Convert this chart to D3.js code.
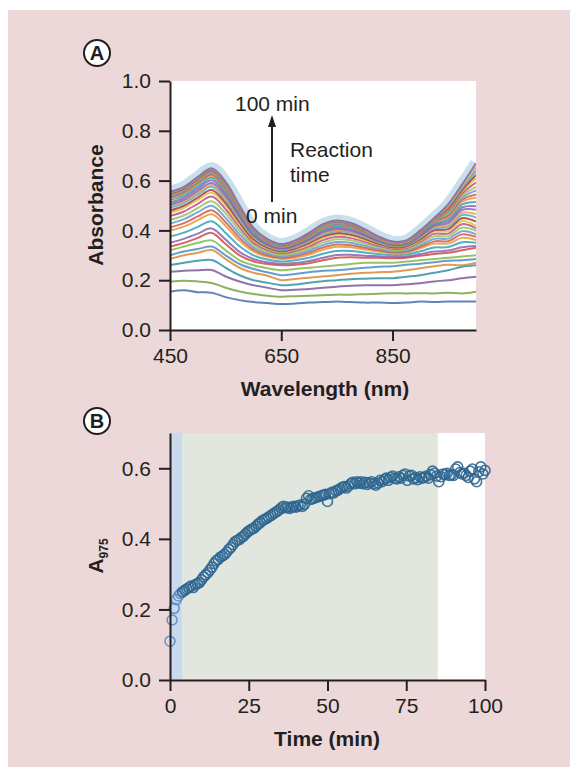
<!DOCTYPE html>
<html>
<head>
<meta charset="utf-8">
<script src="https://cdn.jsdelivr.net/npm/d3@7"></script>
<style>
  body { margin: 0; background: #fff; }
  text { font-family: "Liberation Sans", Arial, Helvetica, sans-serif; fill: #231f20; }
</style>
</head>
<body>
<script>
// ---- panel A: spectra, bottom (0 min) to top (100 min)
const wavelengths = [450,475,500,525,550,575,600,625,650,675,700,725,750,775,800,825,850,875,900,925,950,975,1000];

const spectra = [
  [.154,.160,.152,.150,.132,.120,.112,.108,.104,.106,.110,.112,.114,.112,.110,.110,.108,.110,.114,.112,.114,.114,.114],
  [.194,.198,.195,.189,.170,.155,.145,.138,.134,.136,.138,.140,.142,.142,.144,.146,.148,.147,.148,.147,.150,.147,.154],
  [.234,.238,.240,.241,.215,.195,.180,.170,.160,.162,.165,.170,.174,.178,.180,.180,.180,.184,.188,.195,.200,.208,.214],
  [.261,.270,.278,.281,.250,.220,.200,.190,.180,.183,.190,.196,.200,.204,.206,.208,.208,.214,.220,.230,.240,.254,.260],
  [.285,.300,.310,.321,.285,.250,.230,.218,.200,.205,.210,.215,.220,.226,.230,.232,.234,.240,.248,.256,.262,.260,.270],
  [.300,.315,.325,.335,.300,.265,.245,.232,.220,.225,.232,.238,.240,.245,.250,.254,.256,.262,.266,.272,.278,.280,.285],
  [.320,.335,.350,.360,.320,.280,.260,.248,.240,.245,.250,.255,.260,.265,.270,.270,.270,.275,.280,.285,.290,.295,.300],
  [.335,.350,.370,.390,.345,.300,.276,.265,.260,.262,.268,.280,.290,.292,.290,.290,.288,.290,.298,.305,.310,.320,.330],
  [.350,.366,.387,.408,.363,.314,.285,.272,.266,.269,.277,.290,.301,.302,.298,.296,.293,.295,.305,.315,.319,.332,.337],
  [.375,.391,.414,.437,.390,.336,.300,.283,.275,.280,.290,.306,.317,.317,.311,.305,.300,.303,.316,.331,.333,.352,.350],
  [.399,.415,.441,.465,.418,.358,.315,.294,.285,.290,.303,.322,.334,.332,.323,.315,.307,.310,.328,.347,.347,.370,.361],
  [.412,.429,.456,.481,.433,.370,.323,.300,.290,.296,.311,.331,.343,.340,.330,.320,.312,.315,.334,.356,.357,.384,.374],
  [.427,.445,.473,.499,.450,.384,.332,.307,.296,.303,.319,.341,.353,.350,.338,.326,.316,.319,.341,.366,.367,.397,.384],
  [.443,.460,.490,.517,.468,.398,.342,.314,.302,.310,.328,.351,.364,.360,.346,.332,.321,.324,.348,.376,.377,.411,.398],
  [.458,.476,.507,.536,.485,.412,.351,.321,.308,.317,.336,.361,.374,.369,.354,.338,.326,.329,.355,.386,.387,.425,.408],
  [.471,.490,.522,.551,.500,.424,.359,.327,.313,.323,.344,.370,.383,.378,.361,.343,.330,.333,.361,.395,.396,.437,.418],
  [.480,.499,.532,.562,.510,.432,.364,.331,.316,.327,.349,.376,.389,.383,.366,.346,.332,.336,.365,.401,.405,.449,.435],
  [.491,.510,.544,.575,.523,.442,.371,.336,.320,.332,.355,.383,.397,.390,.372,.350,.336,.340,.370,.408,.414,.462,.452],
  [.498,.517,.551,.582,.530,.448,.375,.339,.323,.335,.358,.387,.401,.394,.375,.353,.338,.342,.374,.412,.421,.471,.466],
  [.504,.523,.559,.590,.538,.454,.379,.342,.326,.338,.362,.392,.406,.398,.379,.356,.340,.344,.377,.417,.429,.482,.483],
  [.513,.532,.569,.601,.548,.462,.385,.346,.329,.341,.367,.398,.412,.404,.383,.359,.342,.347,.381,.423,.437,.492,.497],
  [.522,.541,.578,.611,.558,.470,.390,.350,.332,.345,.372,.403,.418,.409,.388,.362,.345,.350,.385,.428,.446,.504,.514],
  [.529,.548,.586,.619,.565,.476,.394,.353,.335,.348,.375,.408,.422,.413,.391,.365,.347,.352,.388,.433,.453,.515,.531],
  [.533,.553,.591,.624,.570,.480,.397,.355,.337,.350,.378,.411,.425,.416,.394,.367,.348,.353,.390,.436,.459,.523,.544],
  [.537,.557,.595,.629,.575,.484,.399,.357,.338,.352,.380,.413,.428,.419,.396,.368,.350,.354,.392,.438,.466,.532,.561],
  [.542,.562,.600,.634,.580,.488,.402,.359,.340,.354,.383,.416,.431,.422,.398,.370,.351,.356,.394,.441,.472,.540,.575],
  [.544,.564,.603,.637,.583,.490,.403,.360,.341,.355,.384,.418,.433,.423,.399,.371,.352,.357,.395,.443,.478,.548,.592],
  [.546,.566,.605,.640,.585,.492,.405,.361,.342,.356,.385,.419,.434,.425,.400,.372,.352,.357,.396,.444,.484,.556,.609],
  [.548,.568,.608,.642,.588,.494,.406,.362,.342,.357,.386,.421,.436,.426,.402,.373,.353,.358,.397,.446,.488,.562,.622],
  [.551,.571,.610,.645,.590,.496,.407,.363,.343,.358,.388,.422,.437,.427,.403,.373,.354,.359,.398,.447,.494,.570,.639],
  [.553,.573,.613,.647,.593,.498,.409,.364,.344,.359,.389,.424,.439,.429,.404,.374,.354,.359,.399,.449,.499,.577,.653],
  [.555,.575,.615,.650,.595,.500,.410,.365,.345,.360,.390,.425,.440,.430,.405,.375,.355,.360,.400,.450,.505,.585,.670]
];

// ---- panel B: A975 per scan (one scan every 40 s)
const scanStepMin = 2 / 3;
const a975 = [
  0.110,0.170,0.203,0.228,0.238,0.245,0.250,0.254,0.258,0.262,
  0.266,0.262,0.270,0.273,0.276,0.284,0.292,0.298,0.304,0.312,
  0.320,0.330,0.338,0.342,0.348,0.352,0.356,0.362,0.370,0.376,
  0.384,0.392,0.396,0.398,0.404,0.408,0.414,0.420,0.424,0.428,
  0.430,0.436,0.442,0.446,0.452,0.455,0.458,0.462,0.466,0.470,
  0.474,0.478,0.482,0.488,0.492,0.488,0.490,0.486,0.490,0.492,
  0.490,0.494,0.496,0.492,0.498,0.515,0.522,0.512,0.514,0.516,
  0.518,0.520,0.522,0.524,0.526,0.506,0.528,0.532,0.530,0.536,
  0.538,0.542,0.546,0.548,0.544,0.550,0.556,0.560,0.556,0.562,
  0.558,0.562,0.556,0.560,0.554,0.558,0.562,0.556,0.552,0.558,
  0.566,0.562,0.568,0.572,0.566,0.574,0.578,0.572,0.570,0.576,
  0.572,0.580,0.584,0.566,0.578,0.580,0.570,0.574,0.568,0.576,
  0.572,0.574,0.578,0.572,0.582,0.592,0.586,0.578,0.562,0.576,
  0.584,0.582,0.586,0.580,0.582,0.580,0.598,0.604,0.588,0.584,
  0.586,0.580,0.574,0.592,0.598,0.570,0.562,0.590,0.604,0.584,
  0.594
];

const phases = [
  {from: 0, to: 3.8, color: '#c9daee'},
  {from: 3.8, to: 85, color: '#e1e7df'}
];

const absTicks = [0, 0.2, 0.4, 0.6, 0.8, 1.0];
const wlTicks = [450, 650, 850];
const a975Ticks = [0, 0.2, 0.4, 0.6];
const timeTicks = [0, 25, 50, 75, 100];

const bottomColors = ['#4470a8','#78a444','#7b5a9e','#2f93a6','#dc8a35','#4a8ccb','#86b84a','#cc4a44'];
const denseColors = ['#8a63b0','#33a3b5','#e59a3a','#d2584a','#5a9bd5','#9cc255','#b5508f','#e0c040','#a33a3a','#46b0c8','#f0a050','#7d6bb8'];

const ink = '#231f20';

const svg = d3.select('body').append('svg')
  .attr('width', 570)
  .attr('height', 767);

svg.append('rect')
  .attr('x', 8).attr('y', 10)
  .attr('width', 562).attr('height', 757)
  .attr('fill', '#ecd8d8');

function styleAxis(g) {
  g.selectAll('.domain').attr('stroke', ink).attr('stroke-width', 2);
  g.selectAll('.tick line').attr('stroke', ink).attr('stroke-width', 2);
  g.selectAll('.tick text').attr('fill', ink)
    .style('font-size', '21px')
    .style('font-family', '"Liberation Sans", Arial, sans-serif');
}

function panelLabel(x, y, s) {
  svg.append('circle').attr('cx', x).attr('cy', y).attr('r', 13)
    .attr('fill', '#fff').attr('stroke', ink).attr('stroke-width', 2);
  svg.append('text').attr('x', x).attr('y', y + 7)
    .attr('text-anchor', 'middle')
    .style('font-size', '20px').style('font-weight', 'bold')
    .text(s);
}

// ================= panel A =================
const xA = d3.scaleLinear().domain([450, 1000]).range([170, 476]);
const yA = d3.scaleLinear().domain([0, 1]).range([330, 81]);

svg.append('rect')
  .attr('x', xA(450)).attr('y', yA(1))
  .attr('width', xA(1000) - xA(450)).attr('height', yA(0) - yA(1))
  .attr('fill', '#fff');

svg.append('clipPath').attr('id', 'clipA')
  .append('rect')
  .attr('x', xA(450)).attr('y', yA(1))
  .attr('width', xA(1000) - xA(450)).attr('height', yA(0) - yA(1));

const specLine = d3.line()
  .x((d, i) => xA(wavelengths[i]))
  .y(d => yA(d))
  .curve(d3.curveCatmullRom);

const gA = svg.append('g').attr('clip-path', 'url(#clipA)');

// pale halo under the final spectrum
gA.append('path')
  .attr('d', specLine(spectra[spectra.length - 1]))
  .attr('fill', 'none')
  .attr('stroke', '#c9dfea')
  .attr('stroke-width', 12)
  .attr('stroke-linejoin', 'round');

gA.selectAll('.spec')
  .data(spectra)
  .enter()
  .append('path')
  .attr('class', 'spec')
  .attr('d', d => specLine(d))
  .attr('fill', 'none')
  .attr('stroke', (d, i) => i < bottomColors.length ? bottomColors[i] : denseColors[(i - bottomColors.length) % denseColors.length])
  .attr('stroke-width', 2)
  .attr('stroke-opacity', 0.85);

svg.append('g')
  .attr('transform', 'translate(0,' + yA(0) + ')')
  .call(d3.axisBottom(xA).tickValues(wlTicks).tickSize(11).tickPadding(7).tickSizeOuter(0))
  .call(styleAxis);

svg.append('g')
  .attr('transform', 'translate(' + xA(450) + ',0)')
  .call(d3.axisLeft(yA).tickValues(absTicks).tickFormat(d3.format('.1f')).tickSize(11).tickPadding(8).tickSizeOuter(0))
  .call(styleAxis);

svg.append('text')
  .attr('transform', 'translate(103,205) rotate(-90)')
  .attr('text-anchor', 'middle')
  .style('font-size', '21px').style('font-weight', 'bold')
  .text('Absorbance');

svg.append('text')
  .attr('x', 325).attr('y', 396)
  .attr('text-anchor', 'middle')
  .style('font-size', '21px').style('font-weight', 'bold')
  .text('Wavelength (nm)');

// reaction time arrow
svg.append('line')
  .attr('x1', 272).attr('x2', 272)
  .attr('y1', 202).attr('y2', 122)
  .attr('stroke', ink).attr('stroke-width', 2);
svg.append('path')
  .attr('d', 'M268,127 L272,115 L276,127 Z')
  .attr('fill', ink);

svg.append('text').attr('x', 235).attr('y', 111).style('font-size', '21px').text('100 min');
svg.append('text').attr('x', 290).attr('y', 157).style('font-size', '21px').text('Reaction');
svg.append('text').attr('x', 290).attr('y', 182).style('font-size', '21px').text('time');
svg.append('text').attr('x', 246).attr('y', 223).style('font-size', '21px').text('0 min');

panelLabel(97, 53, 'A');

// ================= panel B =================
const xB = d3.scaleLinear().domain([0, 100]).range([170, 485]);
const yB = d3.scaleLinear().domain([0, 0.7]).range([680, 433]);

svg.append('rect')
  .attr('x', xB(0)).attr('y', yB(0.7))
  .attr('width', xB(100) - xB(0)).attr('height', yB(0) - yB(0.7))
  .attr('fill', '#fff');

svg.selectAll('.phase')
  .data(phases)
  .enter()
  .append('rect')
  .attr('class', 'phase')
  .attr('x', d => xB(d.from))
  .attr('y', yB(0.7))
  .attr('width', d => xB(d.to) - xB(d.from))
  .attr('height', yB(0) - yB(0.7))
  .attr('fill', d => d.color);

const points = a975.map((v, i) => ({t: i * scanStepMin, a: v}));

svg.selectAll('.pt')
  .data(points)
  .enter()
  .append('circle')
  .attr('class', 'pt')
  .attr('cx', d => xB(d.t))
  .attr('cy', d => yB(d.a))
  .attr('r', 5)
  .attr('fill', 'none')
  .attr('stroke', d => d.t < phases[0].to ? '#5b8cc6' : '#2e6690')
  .attr('stroke-width', 1.6)
  .attr('stroke-opacity', 0.9);

svg.append('g')
  .attr('transform', 'translate(0,' + yB(0) + ')')
  .call(d3.axisBottom(xB).tickValues(timeTicks).tickSize(11).tickPadding(7).tickSizeOuter(0))
  .call(styleAxis);

svg.append('g')
  .attr('transform', 'translate(' + xB(0) + ',0)')
  .call(d3.axisLeft(yB).tickValues(a975Ticks).tickFormat(d3.format('.1f')).tickSize(11).tickPadding(8).tickSizeOuter(0))
  .call(styleAxis);

const yLabB = svg.append('text')
  .attr('transform', 'translate(103,556) rotate(-90)')
  .attr('text-anchor', 'middle')
  .style('font-size', '21px').style('font-weight', 'bold');
yLabB.append('tspan').text('A');
yLabB.append('tspan').attr('dy', 5).style('font-size', '12px').text('975');

svg.append('text')
  .attr('x', 327).attr('y', 746)
  .attr('text-anchor', 'middle')
  .style('font-size', '21px').style('font-weight', 'bold')
  .text('Time (min)');

panelLabel(97, 421, 'B');
</script>
</body>
</html>
